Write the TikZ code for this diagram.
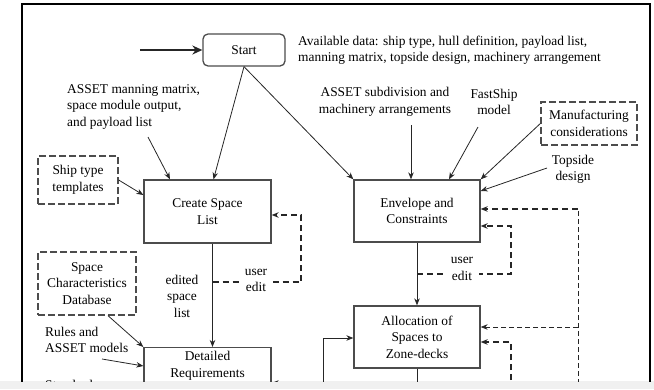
\documentclass[tikz,border=0pt]{standalone}
\usepackage{fontspec}
\setmainfont{Liberation Serif}
\usetikzlibrary{arrows.meta}

\begin{document}
\begin{tikzpicture}[x=1pt, y=-1pt,
    font=\fontsize{13.4}{16.5}\selectfont,
    block/.style={draw=black!70, line width=1.3pt, align=center, inner sep=0pt},
    source/.style={block, dash pattern=on 7pt off 3pt},
    note/.style={align=center, inner sep=0pt},
    flowarrow/.style={draw=black!85, line width=0.8pt, -{Stealth[length=7pt,width=5.5pt]}},
    editloop/.style={flowarrow, line width=1.5pt, dash pattern=on 6pt off 4pt},
    backloop/.style={flowarrow, dash pattern=on 5pt off 3pt}]
  \useasboundingbox (0,0) rectangle (654,389);
  \fill[black!6] (0,381) rectangle (654,389);

  \begin{scope}
    \clip (0,0) rectangle (654,381);
    \draw[line width=1.8pt] (22,420) |- (650,4) -- (650,420);

    \node[block, rounded corners=5pt, minimum width=82pt, minimum height=32pt] (start) at (244,50) {Start};
    \node[block, minimum width=127pt, minimum height=63pt] (create) at (207.5,211.5) {Create Space\\List};
    \node[block, minimum width=126pt, minimum height=62pt] (envelope) at (417,211) {Envelope and\\Constraints};
    \node[block, minimum width=126pt, minimum height=62pt] (alloc) at (417,337) {Allocation of\\Spaces to\\Zone-decks};
    \node[block, minimum width=127pt, inner ysep=4pt, text depth=45pt, anchor=north] (detailed) at (207.5,347) {Detailed\\Requirements};

    \node[source, minimum width=80pt, minimum height=48pt] (ship) at (78,180) {Ship type\\templates};
    \node[source, minimum width=98pt, minimum height=63pt] (spacedb) at (87,283.5) {Space\\Characteristics\\Database};
    \node[source, minimum width=96pt, minimum height=43pt] (manuf) at (589,123.5) {Manufacturing\\considerations};

    \node[note, align=left, anchor=west] (avail) at (298,50) {Available data: ship type, hull definition, payload list,\\manning matrix, topside design, machinery arrangement};
    \node[note, align=left, anchor=west] (assetman) at (67,107) {ASSET manning matrix,\\space module output,\\and payload list};
    \node[note] (assetsub) at (385,102) {ASSET subdivision and\\machinery arrangements};
    \node[note] (fastship) at (494,102) {FastShip\\model};
    \node[note] (topside) at (573,169.5) {Topside\\design};
    \node[note, align=left, anchor=west] (rules) at (45,340) {Rules and\\ASSET models};
    \node[note, anchor=base west] (standards) at (45,389) {Standards};
    \node[note] (edited) at (182,296) {edited\\space\\list};

    \coordinate (startT) at (140,50);
    \coordinate (manT) at (148,137);
    \coordinate (subT) at (411,125);
    \coordinate (fastT) at (478,127);
    \coordinate (topT) at (547,168);
    \coordinate (rulesT) at (102,359);
    \coordinate (edit1) at (212.5,282);
    \coordinate (edit1R) at (301,282);
    \coordinate (edit2) at (417,274);
    \coordinate (edit2R) at (511,274);
    \coordinate (backT) at (578,209);
    \coordinate (backB) at (578,400);
    \coordinate (backM) at (578,327);
    \coordinate (sideB) at (511,400);
    \coordinate (leftB) at (323,400);
    \coordinate (allocB) at (417,400);
    \coordinate (detT) at (292,383);

    \draw[flowarrow, line width=2.4pt, -{Stealth[length=10pt,width=9pt]}] (startT) -- (start);
    \draw[flowarrow] (start.south) -- ([xshift=6pt]create.north);
    \draw[flowarrow] (start.south) -- (envelope.north west);
    \draw[flowarrow] (manT) -- ([xshift=-37.5pt]create.north);
    \draw[flowarrow] (ship.east) -- ([yshift=16.5pt]create.west);
    \draw[flowarrow] ([xshift=5pt]create.south) -- ([xshift=5pt]detailed.north);
    \draw[flowarrow] ([xshift=21pt]spacedb.south) -- (detailed.north west);
    \draw[flowarrow] (rulesT) -- ([yshift=-19pt]detailed.north west);
    \draw[flowarrow] (detT) -- (detailed.east |- detT);

    \draw[flowarrow] (subT) -- (envelope.north -| subT);
    \draw[flowarrow] (fastT) -- ([xshift=32pt]envelope.north);
    \draw[flowarrow] (manuf.west) -- (envelope.north east);
    \draw[flowarrow] (topT) -- ([yshift=20pt]envelope.east);
    \draw[flowarrow] (envelope.south) -- (alloc.north);
    \draw[flowarrow] (leftB) |- ([yshift=-1pt]alloc.west);
    \draw[flowarrow, -] (alloc.south) -- (allocB);

    \draw[editloop] (edit1) -- (edit1R) |- ([yshift=-3.5pt]create.east);
    \draw[editloop] (edit2) -- (edit2R) |- ([yshift=-15pt]envelope.east);
    \draw[editloop] (backT) -- ([yshift=2pt]envelope.east);
    \draw[backloop, -] (backB) -- (backT);
    \draw[backloop] (backM) -- ([yshift=10pt]alloc.east);
    \draw[editloop] (sideB) |- ([yshift=-5pt]alloc.east);

    \node[note, fill=white, inner xsep=6pt] (useredit1) at (256,280.5) {user\\edit};
    \node[note, fill=white, inner xsep=6pt] (useredit2) at (462,269) {user\\edit};
  \end{scope}
\end{tikzpicture}
\end{document}
